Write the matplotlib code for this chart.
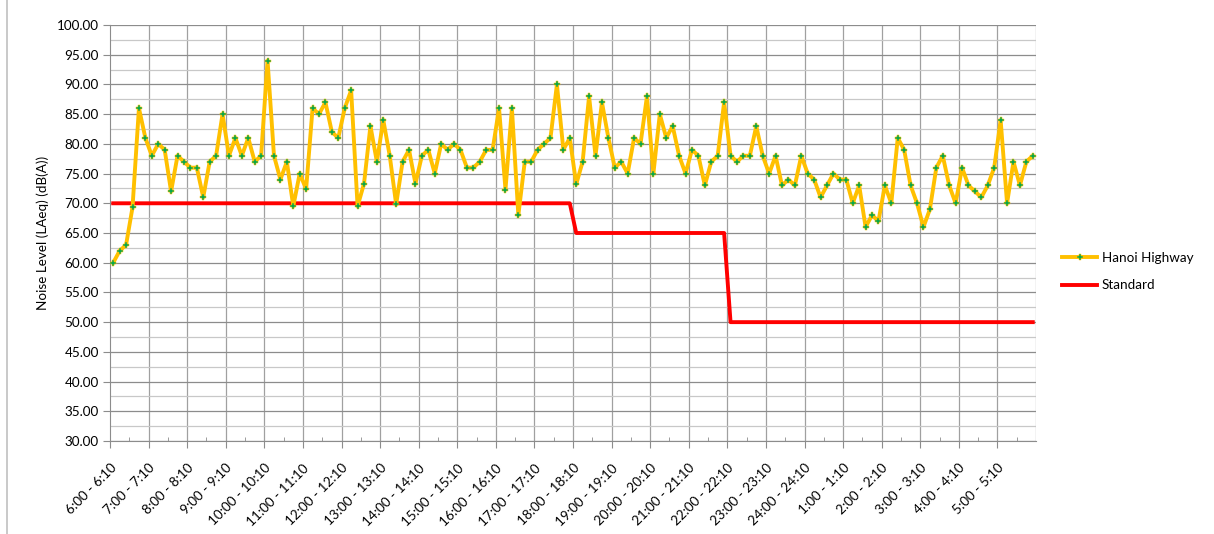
import matplotlib
matplotlib.use("Agg")
import matplotlib.pyplot as plt
from matplotlib.ticker import MultipleLocator, FixedLocator
from matplotlib.lines import Line2D

plt.rcParams['font.family'] = ['Lato', 'DejaVu Sans']

hour_labels = ["6:00 - 6:10", "7:00 - 7:10", "8:00 - 8:10", "9:00 - 9:10",
               "10:00 - 10:10", "11:00 - 11:10", "12:00 - 12:10", "13:00 - 13:10",
               "14:00 - 14:10", "15:00 - 15:10", "16:00 - 16:10", "17:00 - 17:10",
               "18:00 - 18:10", "19:00 - 19:10", "20:00 - 20:10", "21:00 - 21:10",
               "22:00 - 22:10", "23:00 - 23:10", "24:00 - 24:10", "1:00 - 1:10",
               "2:00 - 2:10", "3:00 - 3:10", "4:00 - 4:10", "5:00 - 5:10"]

hanoi_highway = [
    60, 62, 63, 69.3, 86, 81, 78, 80, 79, 72, 78, 77, 76, 76, 71, 77, 78, 85, 78, 81,
    78, 81, 77, 78, 94, 78, 74, 77, 69.5,
    75, 72.4, 86, 85, 87, 82, 81, 86, 89, 69.5, 73.3, 83, 77, 84, 78, 69.8, 77, 79,
    73.3, 78, 79, 75, 80, 79, 80, 79, 76, 76,
    77, 79, 79, 86, 72.3, 86, 68, 77, 77, 79, 80, 81, 90, 79, 81, 73.2, 77, 88, 78,
    87, 81, 76, 77, 75, 81, 80, 88, 75, 85,
    81, 83, 78, 75, 79, 78, 73, 77, 78, 87, 78, 77, 78, 78, 83, 78, 75, 78, 73, 74,
    73, 78, 75, 74, 71, 73, 75, 74, 74,
    70, 73, 66, 68, 67, 73, 70, 81, 79, 73, 70, 66, 69, 76, 78, 73, 70, 76, 73, 72,
    71, 73, 76, 84, 70, 77, 73, 77, 78,
]

standard = [70] * 72 + [65] * 24 + [50] * 48

n = len(hanoi_highway)
xs = [i + 0.5 for i in range(n)]

fig = plt.figure(figsize=(12.14, 5.34), dpi=100)
ax = fig.add_axes([110 / 1214, 1 - 441 / 534, (1036 - 110) / 1214, (441 - 25) / 534])

gold = '#FFC000'
green = '#00A650'
mk = dict(marker='P', markersize=5.0, markerfacecolor=green,
          markeredgecolor=gold, markeredgewidth=0.35)
ax.plot(xs, hanoi_highway, color=gold, lw=2.8, zorder=4, label='Hanoi Highway', **mk)
ax.plot(xs, standard, color='#FF0000', lw=2.8, zorder=3, label='Standard')

ax.set_xlim(0, n)
ax.set_ylim(30, 100)

ax.yaxis.set_minor_locator(MultipleLocator(2.5))
ax.set_yticks([30 + 5 * k for k in range(15)])
ax.set_yticklabels([f"{30 + 5 * k:.2f}" for k in range(15)], fontsize=9.7)

major_x = [6 * k for k in range(len(hour_labels))]
ax.set_xticks(major_x)
ax.set_xticklabels(hour_labels, rotation=45, ha='right', va='top',
                   rotation_mode='anchor', fontsize=9.7)
ax.xaxis.set_minor_locator(FixedLocator([6 * k + 3 for k in range(24)]))

ax.grid(which='major', axis='y', color='#8C8C8C', lw=0.9, zorder=0)
ax.grid(which='minor', axis='y', color='#C8C8C8', lw=0.9, zorder=0)
for k in range(1, 25):
    ax.axvline(6 * k, color='#A0A0A0', lw=0.9, zorder=0)

ax.tick_params(axis='y', which='major', length=5, color='#8C8C8C', direction='out', pad=3)
ax.tick_params(axis='y', which='minor', length=0)
ax.tick_params(axis='x', which='major', length=5, color='#8C8C8C', direction='out', pad=10)
ax.tick_params(axis='x', which='minor', length=3, color='#8C8C8C', direction='in')

for s in ['top', 'right']:
    ax.spines[s].set_visible(False)
ax.spines['left'].set_color('#8C8C8C')
ax.spines['bottom'].set_color('#8C8C8C')

ax.set_ylabel('Noise Level (LAeq) (dB(A))', fontsize=9.7, labelpad=6)

handles = [
    Line2D([], [], color=gold, lw=2.8, **mk),
    Line2D([], [], color='#FF0000', lw=2.8),
]
fig.legend(handles, ['Hanoi Highway', 'Standard'], loc='center left',
           bbox_to_anchor=(1050 / 1214, 1 - 271.5 / 534), frameon=False,
           fontsize=9.7, handlelength=2.6, handletextpad=0.35, labelspacing=1.15)

fig.add_artist(Line2D([7 / 1214, 7 / 1214], [0, 1], color='#C0C0C0', lw=1.2,
                      transform=fig.transFigure))

fig.savefig('out.png', dpi=100, facecolor='white')
